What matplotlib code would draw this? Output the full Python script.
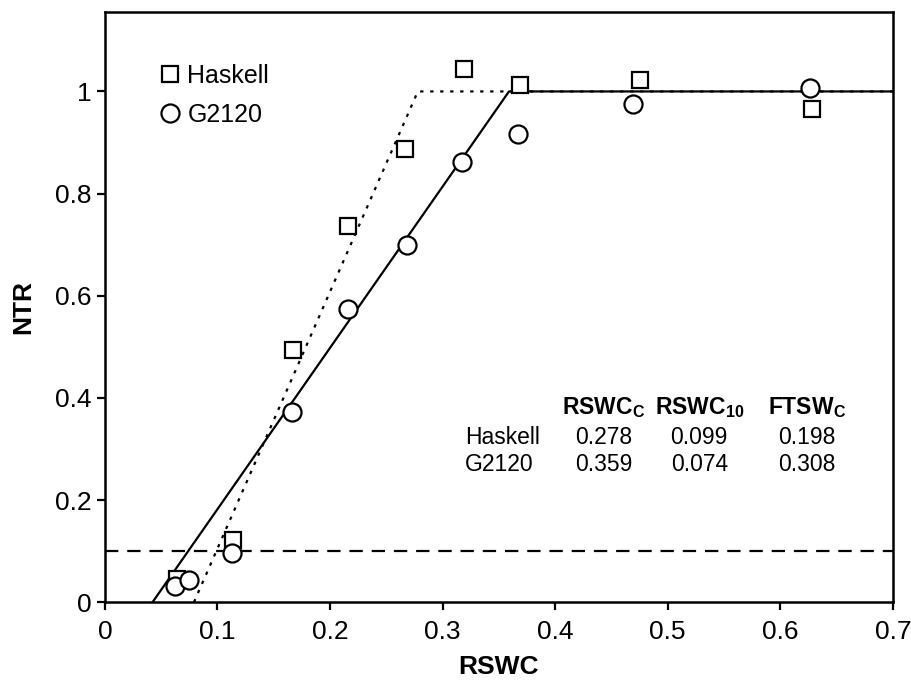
import numpy as np
import matplotlib.pyplot as plt

plt.rcParams['font.family'] = ['Liberation Sans', 'DejaVu Sans']
plt.rcParams['mathtext.fontset'] = 'custom'
plt.rcParams['mathtext.rm'] = 'Liberation Sans'
plt.rcParams['mathtext.bf'] = 'Liberation Sans:bold'

# Observed points
haskell_x = [0.064, 0.114, 0.167, 0.216, 0.267, 0.319, 0.369, 0.475, 0.628]
haskell_y = [0.045, 0.121, 0.493, 0.736, 0.888, 1.043, 1.012, 1.022, 0.965]
g2120_x = [0.062, 0.075, 0.113, 0.166, 0.216, 0.268, 0.317, 0.367, 0.469, 0.626]
g2120_y = [0.031, 0.043, 0.096, 0.372, 0.575, 0.700, 0.861, 0.916, 0.975, 1.006]

# Fitted thresholds (from the table)
genotypes = ['Haskell', 'G2120']
rswc_c = [0.278, 0.359]
rswc_10 = [0.099, 0.074]
ftsw_c = [0.198, 0.308]


def segmented_fit(xc, x10):
    # x where the fit line crosses NTR = 0, from NTR = 0.1 at x10
    x0 = (x10 - 0.1 * xc) / 0.9
    return [x0, xc, 0.7], [0, 1, 1]


fig = plt.figure(figsize=(9.12, 6.82), dpi=100)
ax = fig.add_axes([0.115, 0.117, 0.864, 0.865])

fx, fy = segmented_fit(rswc_c[0], rswc_10[0])
ax.plot(fx, fy, color='black', lw=1.6, ls=(0, (1.5, 3)))
fx, fy = segmented_fit(rswc_c[1], rswc_10[1])
ax.plot(fx, fy, color='black', lw=1.6)
ax.axhline(0.1, color='black', lw=1.6, ls=(0, (6, 4)))

ax.plot(haskell_x, haskell_y, 's', ms=11, mfc='white', mec='black', mew=1.6,
        label='Haskell')
ax.plot(g2120_x, g2120_y, 'o', ms=13, mfc='white', mec='black', mew=1.6,
        label='G2120')

ax.legend(loc='upper left', frameon=False, fontsize=18, handletextpad=0.2,
          handlelength=1.0, borderaxespad=0.0, labelspacing=0.62,
          bbox_to_anchor=(0.054, 0.93))

# Table of thresholds
cols = [0.443, 0.528, 0.624]
heads = [r'RSWC$_\mathbf{C}$', r'RSWC$_\mathbf{10}$', r'FTSW$_\mathbf{C}$']
for cx, h in zip(cols, heads):
    ax.text(cx, 0.382, h, ha='center', va='center', fontsize=16.5,
            fontweight='bold')
rows_y = [0.323, 0.270]
for i, g in enumerate(genotypes):
    ax.text(0.320, rows_y[i], g, ha='left', va='center', fontsize=16.5)
    for cx, v in zip(cols, [rswc_c[i], rswc_10[i], ftsw_c[i]]):
        ax.text(cx, rows_y[i], f'{v:.3f}', ha='center', va='center',
                fontsize=16.5)

ax.set_xlim(0, 0.7)
ax.set_ylim(0, 1.155)
ax.set_xticks(np.arange(0, 0.71, 0.1))
ax.set_xticklabels(['0', '0.1', '0.2', '0.3', '0.4', '0.5', '0.6', '0.7'])
ax.set_yticks([0, 0.2, 0.4, 0.6, 0.8, 1.0])
ax.set_yticklabels(['0', '0.2', '0.4', '0.6', '0.8', '1'])
ax.tick_params(labelsize=19, length=6, width=1.6, direction='out',
               top=False, right=False)
ax.tick_params(axis='x', pad=7)
for s in ax.spines.values():
    s.set_linewidth(1.8)
ax.set_xlabel('RSWC', fontsize=19, fontweight='bold', labelpad=8)
ax.set_ylabel('NTR', fontsize=19, fontweight='bold', labelpad=14)

fig.savefig('out.png', dpi=100)
